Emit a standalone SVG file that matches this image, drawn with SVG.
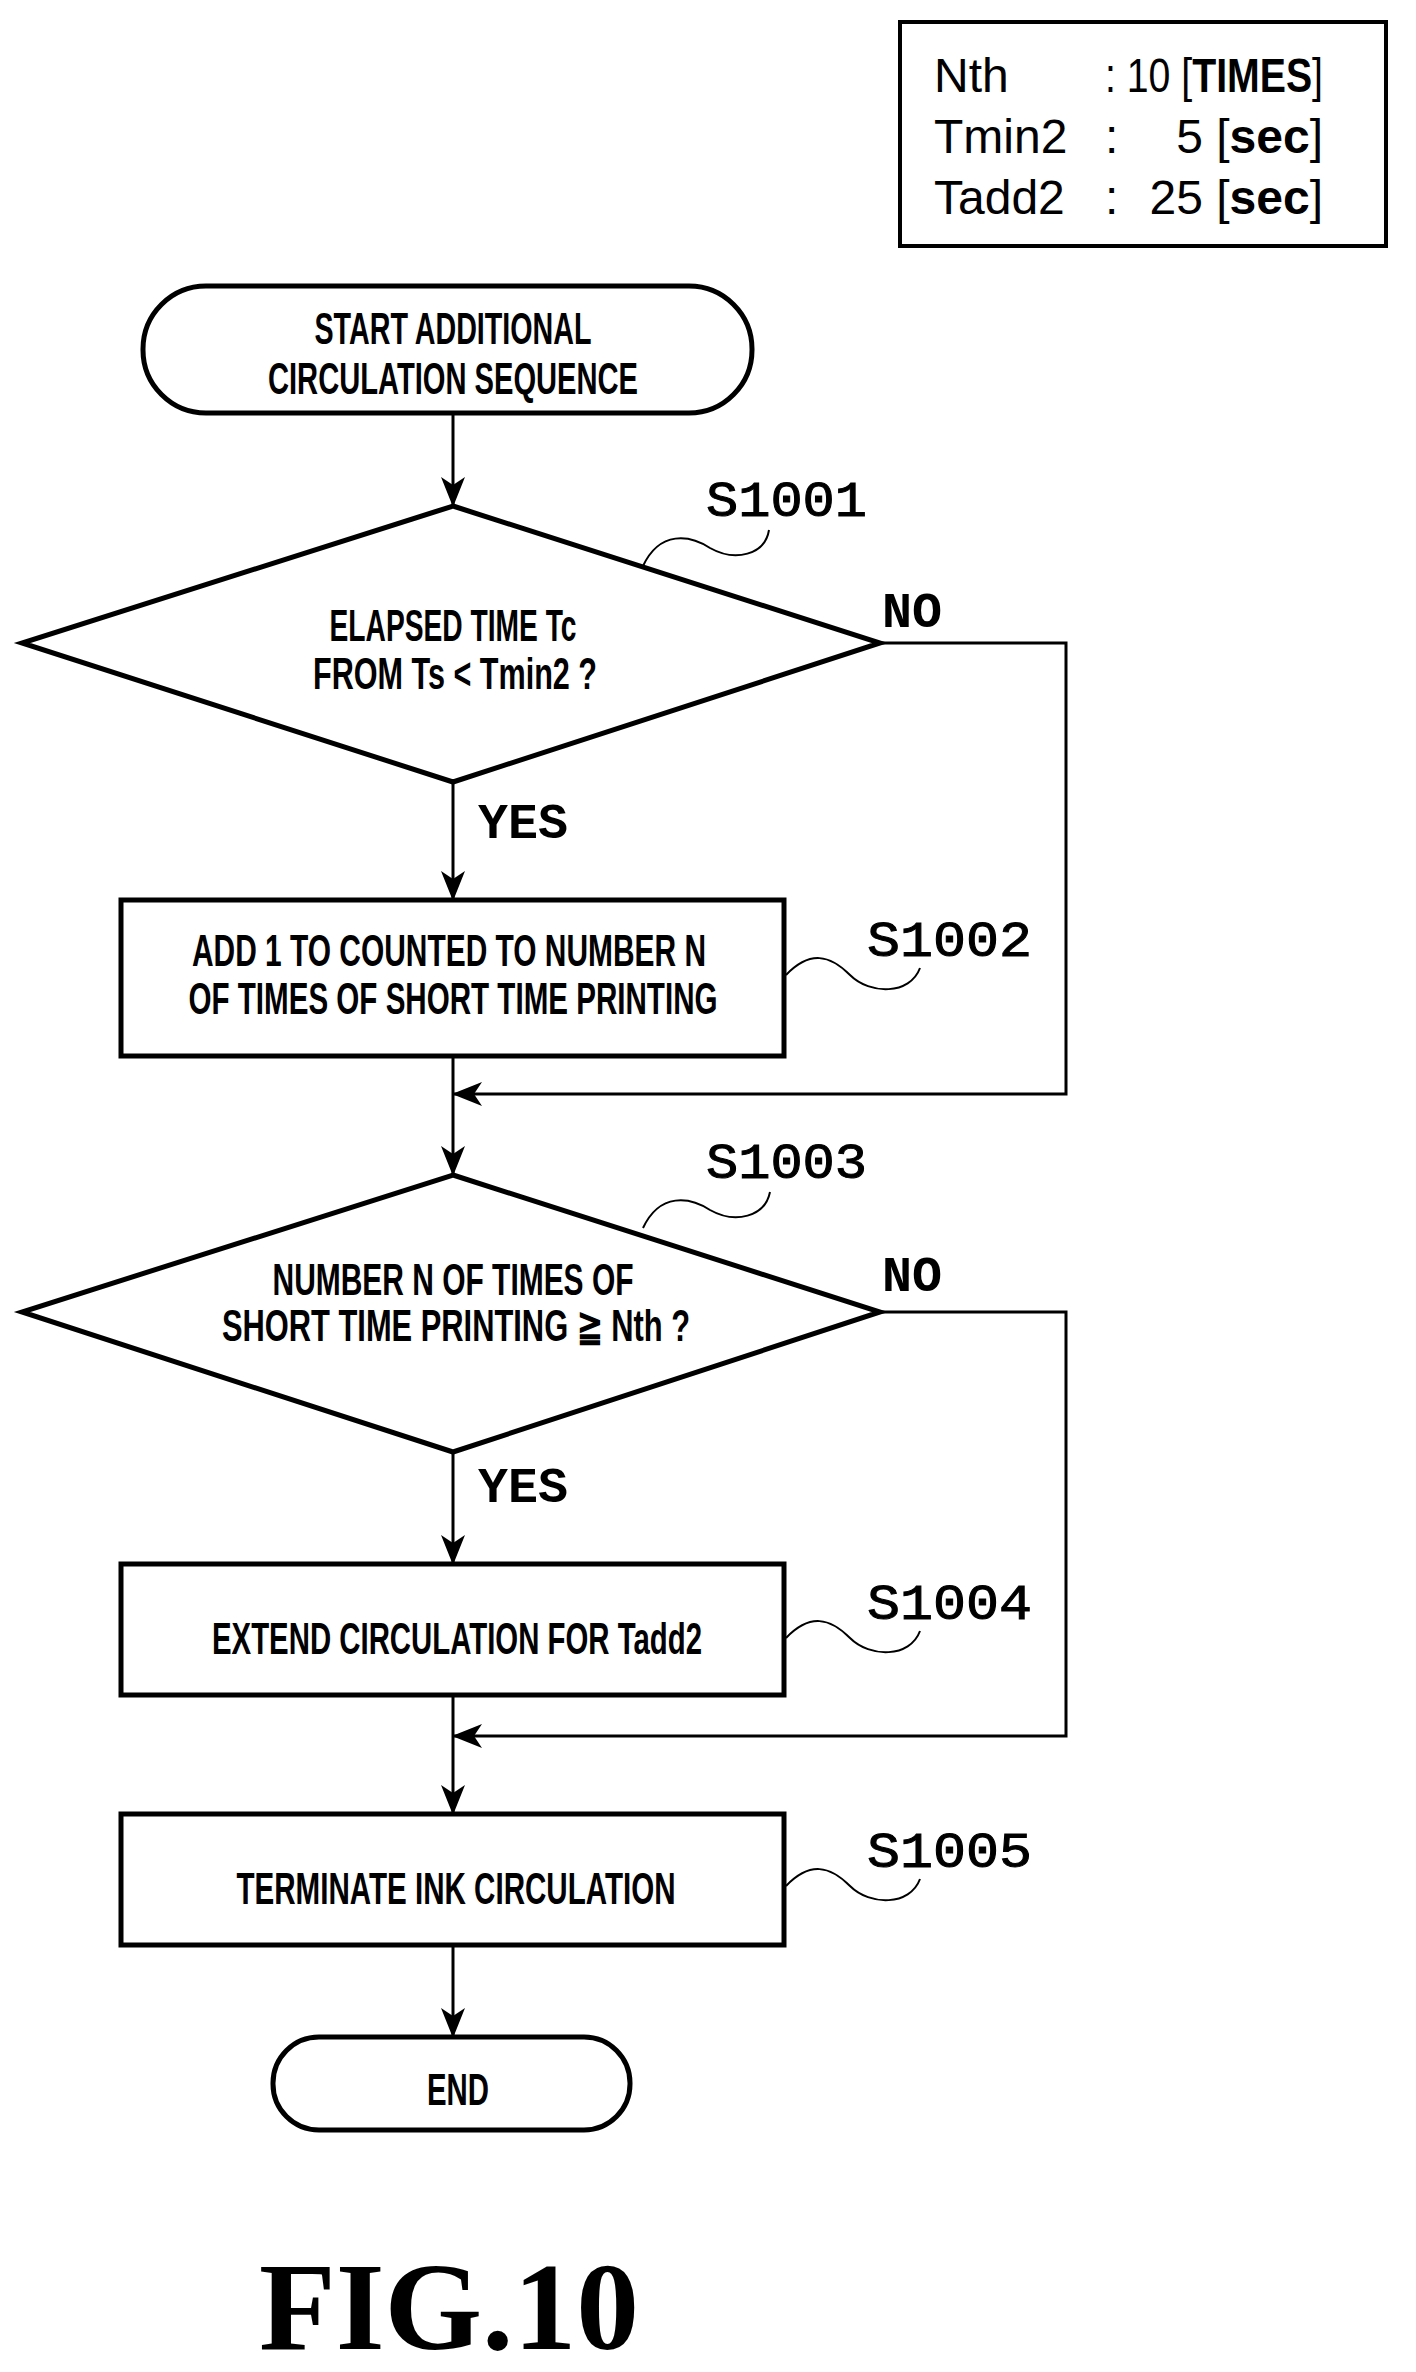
<svg xmlns="http://www.w3.org/2000/svg" width="1416" height="2372" viewBox="0 0 1416 2372">
<defs>
<marker id="ah" markerWidth="30" markerHeight="24" viewBox="0 0 30 24" refX="29" refY="12" orient="auto" markerUnits="userSpaceOnUse">
<path d="M0,0 L30,12 L0,24 L8,12 Z" fill="#000"/>
</marker>
<style>
.s{fill:#fff;stroke:#000;stroke-width:5}
.c{fill:none;stroke:#000;stroke-width:3}
.t{font-family:"Liberation Sans",Arial,sans-serif;font-weight:bold;font-size:44px;text-anchor:middle}
.l{font-family:"Liberation Mono","Courier New",monospace;font-size:50px;stroke:#000;stroke-width:1}
.y{font-family:"Liberation Mono","Courier New",monospace;font-weight:bold;font-size:50px}
.g{font-family:"Liberation Sans",Arial,sans-serif;font-size:48px}
.b{font-weight:bold}
.q{fill:none;stroke:#000;stroke-width:2}
</style>
</defs>
<g id="legend">
<rect x="900" y="22" width="486" height="224" fill="#fff" stroke="#000" stroke-width="4"/>
<text class="g" x="934" y="92">Nth</text><text class="g" x="1105" y="92" textLength="218" lengthAdjust="spacingAndGlyphs">: 10 [<tspan class="b">TIMES</tspan>]</text>
<text class="g" x="934" y="153">Tmin2</text><text class="g" x="1105" y="153">:</text><text class="g" x="1323" y="153" text-anchor="end">5 [<tspan class="b">sec</tspan>]</text>
<text class="g" x="934" y="214">Tadd2</text><text class="g" x="1105" y="214">:</text><text class="g" x="1323" y="214" text-anchor="end">25 [<tspan class="b">sec</tspan>]</text>
</g>
<g id="start">
<rect class="s" x="143" y="286" width="609" height="127" rx="63"/>
<text class="t" x="453" y="344" textLength="277" lengthAdjust="spacingAndGlyphs">START ADDITIONAL</text>
<text class="t" x="453" y="394" textLength="370" lengthAdjust="spacingAndGlyphs">CIRCULATION SEQUENCE</text>
</g>
<g id="S1001">
<polygon class="s" points="453,506 880,643 453,782 22,643"/>
<text class="t" x="453" y="641" textLength="247" lengthAdjust="spacingAndGlyphs">ELAPSED TIME Tc</text>
<text class="t" x="455" y="689" textLength="284" lengthAdjust="spacingAndGlyphs">FROM Ts &lt; Tmin2 ?</text>
<text class="l" x="706" y="516" textLength="161" lengthAdjust="spacingAndGlyphs">S1001</text>
<path class="q" d="M643,566 C660,530 690,535 710,548 C735,562 765,555 769,530"/>
</g>
<g id="S1002">
<rect class="s" x="121" y="900" width="663" height="156"/>
<text class="t" x="449" y="966" textLength="514" lengthAdjust="spacingAndGlyphs">ADD 1 TO COUNTED TO NUMBER N</text>
<text class="t" x="453" y="1014" textLength="529" lengthAdjust="spacingAndGlyphs">OF TIMES OF SHORT TIME PRINTING</text>
<text class="l" x="867" y="956" textLength="165" lengthAdjust="spacingAndGlyphs">S1002</text>
<path class="q" d="M786,975 C810,950 830,955 850,975 C870,995 910,995 920,968"/>
</g>
<g id="S1003">
<polygon class="s" points="453,1175 880,1312 453,1452 22,1312"/>
<text class="t" x="453" y="1295" textLength="361" lengthAdjust="spacingAndGlyphs">NUMBER N OF TIMES OF</text>
<text class="t" x="456" y="1341" textLength="468" lengthAdjust="spacingAndGlyphs">SHORT TIME PRINTING ≧ Nth ?</text>
<text class="l" x="706" y="1178" textLength="161" lengthAdjust="spacingAndGlyphs">S1003</text>
<path class="q" d="M643,1228 C660,1192 690,1197 710,1210 C735,1224 765,1217 770,1192"/>
</g>
<g id="S1004">
<rect class="s" x="121" y="1564" width="663" height="131"/>
<text class="t" x="457" y="1654" textLength="490" lengthAdjust="spacingAndGlyphs">EXTEND CIRCULATION FOR Tadd2</text>
<text class="l" x="867" y="1619" textLength="165" lengthAdjust="spacingAndGlyphs">S1004</text>
<path class="q" d="M786,1638 C810,1613 830,1618 850,1638 C870,1658 910,1658 920,1631"/>
</g>
<g id="S1005">
<rect class="s" x="121" y="1814" width="663" height="131"/>
<text class="t" x="456" y="1904" textLength="439" lengthAdjust="spacingAndGlyphs">TERMINATE INK CIRCULATION</text>
<text class="l" x="867" y="1867" textLength="165" lengthAdjust="spacingAndGlyphs">S1005</text>
<path class="q" d="M786,1886 C810,1861 830,1866 850,1886 C870,1906 910,1906 920,1879"/>
</g>
<g id="end">
<rect class="s" x="273" y="2037" width="357" height="93" rx="46"/>
<text class="t" x="458" y="2105" textLength="62" lengthAdjust="spacingAndGlyphs">END</text>
</g>
<g id="connectors">
<line class="c" x1="453" y1="413" x2="453" y2="506" marker-end="url(#ah)"/>
<line class="c" x1="453" y1="782" x2="453" y2="900" marker-end="url(#ah)"/>
<line class="c" x1="453" y1="1056" x2="453" y2="1175" marker-end="url(#ah)"/>
<polyline class="c" points="880,643 1066,643 1066,1094 453,1094" marker-end="url(#ah)"/>
<line class="c" x1="453" y1="1452" x2="453" y2="1564" marker-end="url(#ah)"/>
<line class="c" x1="453" y1="1695" x2="453" y2="1814" marker-end="url(#ah)"/>
<polyline class="c" points="880,1312 1066,1312 1066,1736 453,1736" marker-end="url(#ah)"/>
<line class="c" x1="453" y1="1945" x2="453" y2="2037" marker-end="url(#ah)"/>
<text class="y" x="882" y="627">NO</text>
<text class="y" x="478" y="838">YES</text>
<text class="y" x="882" y="1291">NO</text>
<text class="y" x="478" y="1502">YES</text>
</g>
<text x="259" y="2349" font-family="'Liberation Serif','Times New Roman',serif" font-weight="bold" font-size="125" textLength="380" lengthAdjust="spacingAndGlyphs">FIG.10</text>
</svg>
